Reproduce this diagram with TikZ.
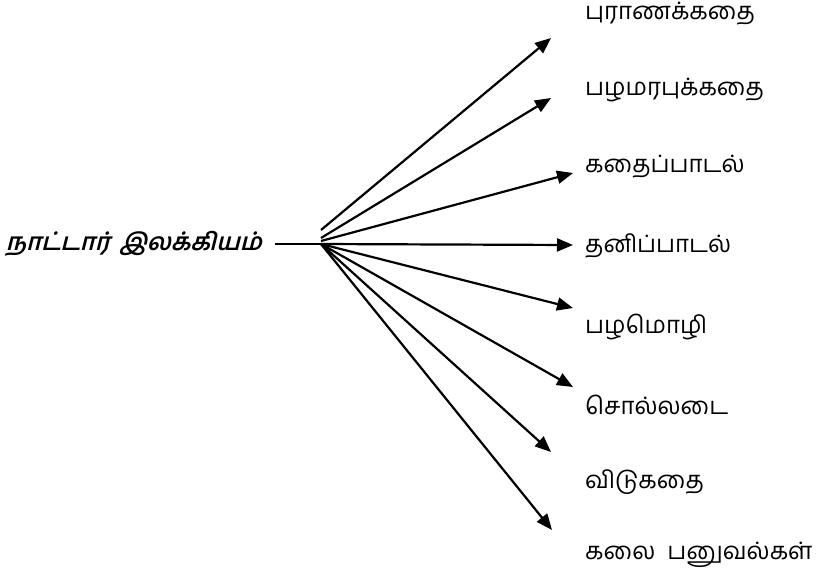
\documentclass[tikz,border=0pt]{standalone}
\usepackage{fontspec}
\usepackage{tikz}
\usetikzlibrary{arrows.meta}
\newfontfamily\tamilfont[Script=Tamil]{Hind Madurai}
\newfontfamily\rootfont[Script=Tamil,FakeSlant=0.25]{Hind Madurai}

\tikzset{
  leaf/.style={anchor=west, inner sep=0pt, font=\tamilfont\fontsize{24}{28}\selectfont},
  rootlabel/.style={anchor=east, inner sep=0pt, font=\rootfont\bfseries\fontsize{24}{28}\selectfont},
  branch/.style={line width=2.2pt, -{Triangle[length=16pt,width=13pt]}}
}

\begin{document}
\begin{tikzpicture}[x=1pt,y=-1pt]
  \useasboundingbox (0,0) rectangle (819,579);

% Nodes
  \node[rootlabel]  (root)        at (262,244) {நாட்டார்\hspace{10pt}இலக்கியம்};
  \coordinate       (hub)         at (321,244);
  \coordinate       (hubtop)      at (321,230);
  \node[leaf]       (puranam)     at (585,14)  {புராணக்கதை};
  \node[leaf]       (pazhamarapu) at (585,90)  {பழமரபுக்கதை};
  \node[leaf]       (kathaipadal) at (585,167) {கதைப்பாடல்};
  \node[leaf]       (tanippadal)  at (585,246) {தனிப்பாடல்};
  \node[leaf]       (pazhamozhi)  at (585,327) {பழமொழி};
  \node[leaf]       (sollatai)    at (585,405) {சொல்லடை};
  \node[leaf]       (vidukathai)  at (585,482) {விடுகதை};
  \node[leaf]       (kalai)       at (585,555) {கலை\hspace{12pt}பனுவல்கள்};

% Arrow tips
  \coordinate (tipa) at (551,38);
  \coordinate (tipb) at (551,98);
  \coordinate (tipc) at (573,173);
  \coordinate (tipd) at (573,245);
  \coordinate (tipe) at (573,308);
  \coordinate (tipf) at (573,387);
  \coordinate (tipg) at (551,452);
  \coordinate (tiph) at (552,530);

% Edges
  \draw[line width=1.5pt] (root.east) ++(13,0) -- (hub);
  \draw[branch] (hubtop) -- (tipa);
  \draw[branch] (hub) ++(0,-6) -- (tipb);
  \draw[branch] (hub) ++(0,-3) -- (tipc);
  \draw[branch] (hub) -- (tipd);
  \draw[branch] (hub) -- (tipe);
  \draw[branch] (hub) -- (tipf);
  \draw[branch] (hub) -- (tipg);
  \draw[branch] (hub) -- (tiph);

\end{tikzpicture}
\end{document}
